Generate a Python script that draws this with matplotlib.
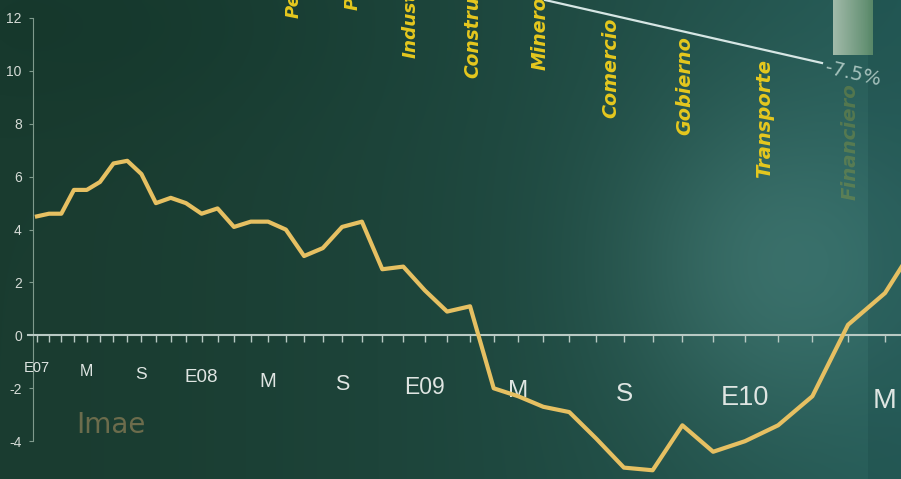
import numpy as np
import matplotlib
matplotlib.use("Agg")
import matplotlib.pyplot as plt
from matplotlib.transforms import blended_transform_factory

# Imae, variacion en 12 meses (%), ene-2007 en adelante
months = np.arange(42)
imae = [4.5, 4.6, 4.6, 5.5, 5.5, 5.8, 6.5, 6.6, 6.1, 5.0, 5.2, 5.0,
        4.6, 4.8, 4.1, 4.3, 4.3, 4.0, 3.0, 3.3, 4.1, 4.3, 2.5, 2.6,
        1.7, 0.9, 1.1, -2.0, -2.3, -2.7, -2.9, -3.9, -5.0, -5.1, -3.4, -4.4,
        -4.0, -3.4, -2.3, 0.4, 1.6, 3.9]
tick_months = [0, 4, 8, 12, 16, 20, 24, 28, 32, 36, 40]
tick_labels = ['E07', 'M', 'S', 'E08', 'M', 'S', 'E09', 'M', 'S', 'E10', 'M']
y_ticks = [-4, -2, 0, 2, 4, 6, 8, 10, 12]
sectors = ['Personales', 'Pesca', 'Industria', 'Construcción', 'Minero',
           'Comercio', 'Gobierno', 'Transporte', 'Financiero']
sector_value = '-7.5%'

fig = plt.figure(figsize=(9.01, 4.79), dpi=100)

# background (tv graphic look)
bg = fig.add_axes([0, 0, 1, 1])
bg.set_xlim(0, 1)
bg.set_ylim(0, 1)
bg.axis('off')
xx, yy = np.meshgrid(np.linspace(0, 1, 300), np.linspace(1, 0, 160))
left = np.array([26, 60, 48]) / 255
right = np.array([38, 92, 88]) / 255
w = xx ** 1.6
img = left[None, None, :] * (1 - w[..., None]) + right[None, None, :] * w[..., None]
glow = np.exp(-((xx - 0.86) ** 2 / 0.03 + (yy - 0.45) ** 2 / 0.12))
img = img + glow[..., None] * (np.array([22, 26, 26]) / 255)
dark_top = np.exp(-((xx - 0.15) ** 2 / 0.1 + (yy - 0.95) ** 2 / 0.05))
img = img - dark_top[..., None] * 0.015
bg.imshow(np.clip(img, 0, 1), extent=[0, 1, 0, 1], aspect='auto',
          interpolation='bicubic', zorder=0)
bg.axvspan(0.963, 1.0, color='#0f3838', alpha=0.18, lw=0, zorder=1)

# small bar at top right
bar = np.linspace(0, 1, 50)[None, :, None]
bar_img = np.array([0.80, 0.86, 0.78]) * (1 - bar) + np.array([0.42, 0.60, 0.44]) * bar
bg.imshow(np.repeat(bar_img, 10, axis=0), extent=[0.925, 0.969, 0.885, 1.0],
          aspect='auto', alpha=0.75, zorder=2)

# sector names (rotated, yellow)
sx = [294, 353, 411, 473, 540, 611, 685, 765, 850]
sy = [18, 10, 58, 78, 70, 118, 135, 178, 200]
for i, name in enumerate(sectors):
    bg.text(sx[i] / 901, 1 - sy[i] / 479, name, rotation=90, ha='center', va='bottom',
            fontsize=13 + 0.15 * i, fontweight='bold', fontstyle='italic', color='#e6c81e',
            alpha=0.22 if i == len(sectors) - 1 else 1.0, zorder=3)
bg.plot([545 / 901, 822 / 901], [1.0, 1 - 63 / 479], color='#d6e6e4', lw=1.6, zorder=3)
bg.text(853 / 901, 1 - 74 / 479, sector_value, rotation=-13, ha='center', va='center',
        fontsize=14, color='#c6dcd6', alpha=0.8, zorder=3)
bg.text(111 / 901, 1 - 425 / 479, 'Imae', ha='center', va='center', fontsize=20,
        color='#6c6c4c', zorder=3)

# main chart, x axis in perspective (projective scale)
ax = fig.add_axes([0, 0, 1, 1])
ax.patch.set_alpha(0)
c = 0.01095
ax.set_xscale('function', functions=(lambda t: t / (1 - c * t),
                                     lambda v: v / (1 + c * v)))
ax.plot(months, imae, color='#e6c062', lw=3, zorder=5)

ax.spines['top'].set_visible(False)
ax.spines['right'].set_visible(False)
ax.spines['left'].set_position(('data', -0.34))
ax.spines['left'].set_bounds(-4, 12)
ax.spines['left'].set_color('#7f9a8c')
ax.spines['bottom'].set_position(('data', 0))
ax.spines['bottom'].set_bounds(-0.8, 42)
ax.spines['bottom'].set_color('#b9cac4')
ax.spines['bottom'].set_linewidth(1.5)

ax.set_yticks(y_ticks)
ax.set_yticklabels([str(v) for v in y_ticks])
ax.tick_params(axis='y', color='#7f9a8c', labelcolor='#d5dbd6', length=3, pad=5,
               labelsize=10)
for lab in ax.get_yticklabels():
    lab.set_fontfamily(['Liberation Sans Narrow', 'Liberation Sans', 'DejaVu Sans'])
ax.set_xticks(months)
ax.set_xticklabels([])
ax.tick_params(axis='x', direction='out', length=5, width=1, color='#b9cac4')
ax.set_xlim(-3.21, 40.42)
ax.set_ylim(-5.43, 12.68)

trans = blended_transform_factory(ax.transData, ax.transAxes)
for i, (m, lab) in enumerate(zip(tick_months, tick_labels)):
    ax.text(m, 1 - (368 + i * 3.3) / 479, lab, transform=trans, ha='center', va='center',
            fontsize=10.5 + i * 1.0, color='#dfe5e2', family='Liberation Sans', zorder=4)

fig.savefig('out.png', dpi=100)
